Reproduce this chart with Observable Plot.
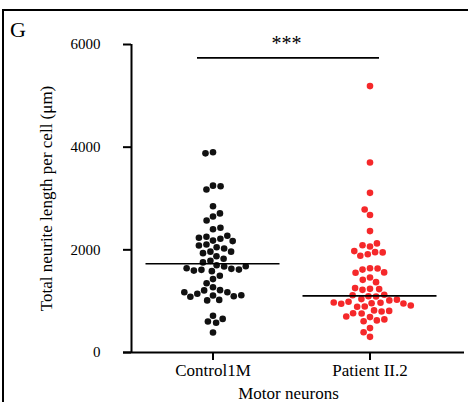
<!DOCTYPE html>
<html><head><meta charset="utf-8">
<script src="https://cdn.jsdelivr.net/npm/d3@7"></script>
<script src="https://cdn.jsdelivr.net/npm/@observablehq/plot@0.6"></script>
<style>
html,body{margin:0;padding:0;background:#fff;overflow:hidden;}
#wrap{position:relative;width:468px;height:402px;}
#chart{position:absolute;left:0;top:0;}
#frame{position:absolute;left:2px;top:9px;width:600px;height:600px;border-left:2px solid #000;border-top:2px solid #000;}
#panel{position:absolute;left:10px;top:19px;font-family:"Liberation Serif",serif;font-size:22px;line-height:22px;color:#000;}
</style></head><body>
<div id="wrap"><div id="chart"></div><div id="frame"></div><div id="panel">G</div></div>
<script>
const groups = ["Control1M", "Patient II.2"];
const controlValues = [3900, 3880, 3250, 3175, 3240, 2850, 2650, 2570, 2710, 2400, 2430, 2180, 2255, 2215, 2235, 2275, 2170, 2105, 2050, 2025, 2085, 1965, 1935, 1875, 1965, 1825, 1785, 1755, 1700, 1675, 1585, 1610, 1630, 1595, 1615, 1640, 1680, 1430, 1495, 1350, 1270, 1215, 1210, 1175, 1145, 1110, 1095, 1015, 1025, 1085, 1115, 1175, 715, 605, 580, 655, 390];
const patientValues = [5190, 3700, 3110, 2680, 2785, 2365, 2065, 2090, 2125, 1955, 1915, 1885, 1950, 1975, 1640, 1615, 1635, 1560, 1555, 1460, 1415, 1370, 1240, 1220, 1235, 1255, 1125, 1095, 1090, 1115, 1040, 1015, 990, 1030, 970, 960, 950, 955, 975, 895, 890, 915, 820, 800, 810, 765, 760, 690, 625, 610, 645, 700, 475, 395, 305];
const meanValues = [1728, 1104];
const yTicks = [0, 2000, 4000, 6000];
const sigValue = 5740;
const sigText = "***";
const yLabel = "Total neurite length per cell (μm)";
const xLabel = "Motor neurons";
const colors = ["#111111", "#f5282a"];

const points = [
  ...controlValues.map(v => ({group: groups[0], value: v})),
  ...patientValues.map(v => ({group: groups[1], value: v}))
];
const means = groups.map((g, i) => ({group: g, value: meanValues[i]}));

const chart = Plot.plot({
  width: 468, height: 402,
  marginLeft: 131, marginRight: 23, marginTop: 44, marginBottom: 50,
  style: {fontFamily: '"Liberation Serif", serif', background: "transparent", color: "#000"},
  fx: {domain: groups, paddingInner: 0, paddingOuter: 0, label: null},
  x: {domain: [0, 1], axis: null},
  y: {domain: [0, 6000]},
  color: {domain: groups, range: colors},
  marks: [
    Plot.ruleY([0], {fx: [groups[0]], strokeWidth: 2, insetLeft: -8}),
    Plot.ruleY([0], {fx: [groups[1]], strokeWidth: 2, insetRight: -19}),
    Plot.ruleX([0], {fx: [groups[0]], y1: 0, y2: 6000, strokeWidth: 2}),
    Plot.axisY({ticks: yTicks, tickSize: 8, tickPadding: 23, fontSize: 15, strokeWidth: 2,
      tickFormat: d => String(d), label: null}),
    Plot.axisY({ticks: [], tickSize: 0, fontSize: 17, label: yLabel, labelAnchor: "center",
      labelArrow: "none", labelOffset: 92}),
    Plot.axisFx({anchor: "bottom", tickSize: 8, tickPadding: 3, fontSize: 17, strokeWidth: 2, dx: 3,
      label: xLabel, labelAnchor: "center", labelOffset: 46}),
    Plot.dot(points, Plot.dodgeX("middle", {fx: "group", y: "value", r: 3.3, padding: 2.5, fill: "group", dx: 3})),
    Plot.ruleY(means, {fx: "group", y: "value", insetLeft: 11.5, insetRight: 11.5, strokeWidth: 1.6, dx: 3}),
    Plot.ruleY([{group: groups[0], value: sigValue}], {fx: "group", y: "value", insetLeft: 66, strokeWidth: 1.6}),
    Plot.ruleY([{group: groups[1], value: sigValue}], {fx: "group", y: "value", insetRight: 66, strokeWidth: 1.6}),
    Plot.text([{group: groups[0], value: 6020}], {fx: "group", y: "value", text: () => sigText,
      frameAnchor: "right", textAnchor: "middle", dx: -2, fontSize: 20, letterSpacing: 1.5})
  ]
});
document.getElementById("chart").appendChild(chart);
</script>
</body></html>
